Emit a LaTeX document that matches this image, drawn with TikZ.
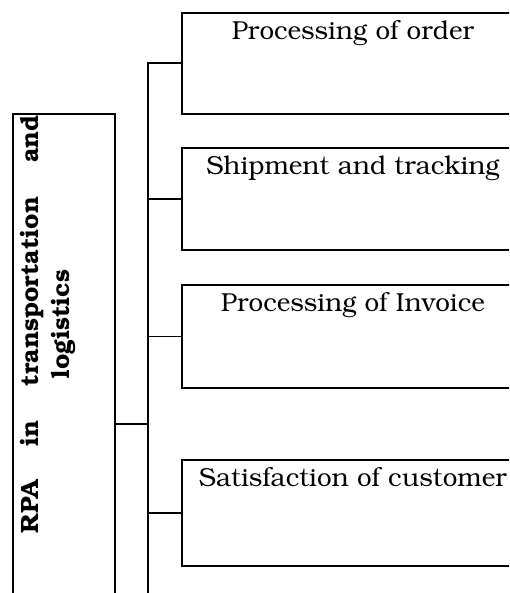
\documentclass[tikz,border=0pt]{standalone}
\usepackage[T1]{fontenc}
\usepackage{bookman}
\usepackage{tikz}

\tikzset{
  itembox/.style={draw, line width=1.8pt, anchor=north west, inner sep=0pt,
    minimum width=342pt, text height=27pt, font=\fontsize{26}{30}\selectfont},
  link/.style={line width=1.8pt}
}

\begin{document}
\begin{tikzpicture}[x=1pt, y=-1pt]
  \useasboundingbox (0,0) rectangle (509,593);
  \clip (0,0) rectangle (509,593);

  % left box
  \node[draw, line width=1.8pt, anchor=north west, minimum width=102pt, minimum height=520pt] (rpa) at (12,113) {};
  \node[rotate=90, anchor=north, inner sep=0pt, text width=418pt, align=center,
    font=\fontsize{25}{31}\selectfont\bfseries] (rpalabel) at (20,324)
    {\makebox[\linewidth][s]{RPA\hfill in\hfill transportation\hfill and}\\ logistics\hspace*{30pt}};

  % right boxes
  \foreach \i/\top/\dep/\txt in {1/12/74/Processing of order, 2/147/75/Shipment and tracking,
                                 3/284/76/Processing of Invoice, 4/459/79/Satisfaction of customer}
    \node[itembox, text depth=\dep pt] (b\i) at (181,\top) {\txt};

  % connectors
  \coordinate (trunktop) at (148,62);
  \coordinate (joint) at (148,424);
  \draw[link] (trunktop) -- (trunktop |- rpa.south);
  \foreach \i in {1,...,4}
    \draw[link] (b\i.west) -- (b\i.west -| trunktop);
  \draw[link] (joint -| rpa.east) -- (joint);
\end{tikzpicture}
\end{document}
